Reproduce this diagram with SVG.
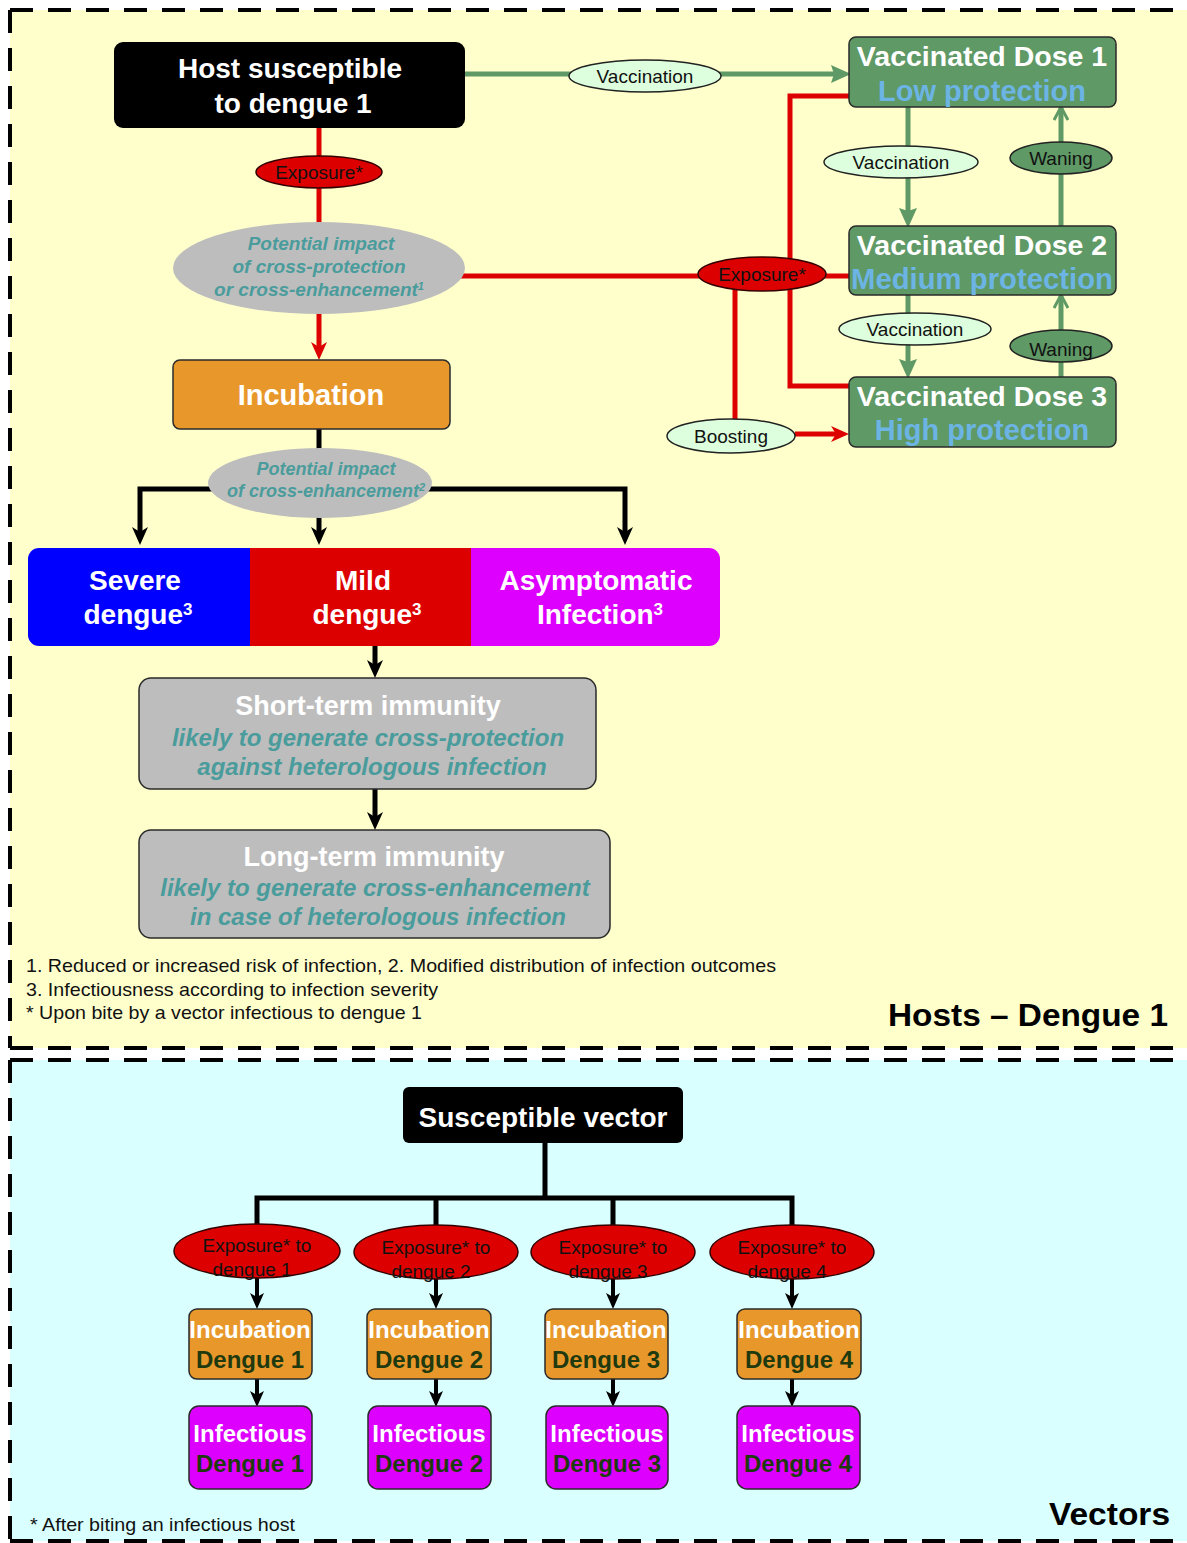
<svg xmlns="http://www.w3.org/2000/svg" width="1187" height="1543" viewBox="0 0 1187 1543">
<defs>
<marker id="ahBlack" viewBox="0 0 18 16" refX="6" refY="8" markerWidth="18" markerHeight="16" markerUnits="userSpaceOnUse" orient="auto"><path d="M0,0 L18,8 L0,16 L5,8 z" fill="#000"/></marker>
<marker id="ahBlackS" viewBox="0 0 16 14" refX="5" refY="7" markerWidth="16" markerHeight="14" markerUnits="userSpaceOnUse" orient="auto"><path d="M0,0 L16,7 L0,14 L4,7 z" fill="#000"/></marker>
<marker id="ahRed" viewBox="0 0 18 16" refX="6" refY="8" markerWidth="18" markerHeight="16" markerUnits="userSpaceOnUse" orient="auto"><path d="M0,0 L18,8 L0,16 L5,8 z" fill="#DD0000"/></marker>
<marker id="ahGreen" viewBox="0 0 20 18" refX="6" refY="9" markerWidth="20" markerHeight="18" markerUnits="userSpaceOnUse" orient="auto"><path d="M0,0 L20,9 L0,18 L3,9 z" fill="#5F9966"/></marker>
<marker id="ahGreenOpen" viewBox="0 0 16 16" refX="14" refY="8" markerWidth="16" markerHeight="16" markerUnits="userSpaceOnUse" orient="auto"><path d="M2,1 L15,8 L2,15" fill="none" stroke="#5F9966" stroke-width="3"/></marker>
<clipPath id="barClip"><rect x="28" y="548" width="692" height="98" rx="11"/></clipPath>
</defs>
<style>
.sans{font-family:"Liberation Sans",Arial,sans-serif}
.title{font-family:"Liberation Sans",Arial,sans-serif;font-weight:bold;fill:#fff;text-anchor:middle}
.teal{font-family:"Liberation Sans",Arial,sans-serif;font-weight:bold;font-style:italic;fill:#4A9C9C;text-anchor:middle}
.lbl{font-family:"Liberation Sans",Arial,sans-serif;fill:#111;text-anchor:middle;font-size:19px}
.note{font-family:"Liberation Sans",Arial,sans-serif;fill:#111;font-size:19px}
.dash{stroke:#000;stroke-width:4;stroke-dasharray:23 15;fill:none}
.lg{fill:#DDFFDD;stroke:#222;stroke-width:1.5}
.exp{fill:#DD0000;stroke:#330000;stroke-width:1.5}
.dose{fill:#5F9966;stroke:#2A2A2A;stroke-width:1.5}
.grn{stroke:#5F9966;stroke-width:5;fill:none}
.red{stroke:#DD0000;stroke-width:5;fill:none}
.blk{stroke:#000;stroke-width:5;fill:none}
.blk4{stroke:#000;stroke-width:4;fill:none}
.inc{fill:#E8982A;stroke:#2A2A2A;stroke-width:1.5}
.inf{fill:#DD00FF;stroke:#2A2A2A;stroke-width:1.5}
.dk{font-family:"Liberation Sans",Arial,sans-serif;font-weight:bold;fill:#1F3A0F;text-anchor:middle}
.blue{font-family:"Liberation Sans",Arial,sans-serif;font-weight:bold;fill:#6CB4E4;text-anchor:middle}
</style>
<rect x="0" y="0" width="1187" height="1543" fill="#fff"/>
<g id="panels">
<rect x="10" y="10" width="1177" height="1038" fill="#FFFFCC"/>
<rect x="10" y="1060" width="1177" height="481" fill="#D9FFFF"/>
<path class="dash" d="M10,10 H1187 M10,10 V1048 M10,1048 H1187 M10,1060 H1187 M10,1060 V1541 M10,1541 H1187"/>
</g>
<g id="connectors">
<line class="grn" x1="465" y1="74" x2="837" y2="74" marker-end="url(#ahGreen)"/>
<line class="grn" x1="908" y1="107" x2="908" y2="214" marker-end="url(#ahGreen)"/>
<line class="grn" x1="908" y1="295" x2="908" y2="365" marker-end="url(#ahGreen)"/>
<line class="grn" x1="1061" y1="226" x2="1061" y2="108" marker-end="url(#ahGreenOpen)"/>
<line class="grn" x1="1061" y1="377" x2="1061" y2="296" marker-end="url(#ahGreenOpen)"/>
<line class="red" x1="319" y1="128" x2="319" y2="225"/>
<line class="red" x1="319" y1="310" x2="319" y2="348" marker-end="url(#ahRed)"/>
<line class="red" x1="460" y1="276" x2="849" y2="276"/>
<polyline class="red" points="849,96 790,96 790,386 849,386"/>
<line class="red" x1="735" y1="285" x2="735" y2="422"/>
<line class="red" x1="795" y1="434" x2="837" y2="434" marker-end="url(#ahRed)"/>
<line class="blk" x1="319" y1="429" x2="319" y2="455"/>
<line class="blk" x1="319" y1="510" x2="319" y2="533" marker-end="url(#ahBlack)"/>
<path class="blk" d="M320,489 H140 V533" marker-end="url(#ahBlack)"/>
<path class="blk" d="M320,489 H625 V533" marker-end="url(#ahBlack)"/>
<line class="blk" x1="375" y1="646" x2="375" y2="666" marker-end="url(#ahBlack)"/>
<line class="blk" x1="375" y1="789" x2="375" y2="818" marker-end="url(#ahBlack)"/>
<path class="blk" d="M545,1143 V1198 M257,1226 V1198 H792 V1226 M436,1198 V1226 M613,1198 V1226"/>
<line class="blk4" x1="257" y1="1276" x2="257" y2="1298" marker-end="url(#ahBlackS)"/>
<line class="blk4" x1="436" y1="1278" x2="436" y2="1298" marker-end="url(#ahBlackS)"/>
<line class="blk4" x1="613" y1="1278" x2="613" y2="1298" marker-end="url(#ahBlackS)"/>
<line class="blk4" x1="792" y1="1278" x2="792" y2="1298" marker-end="url(#ahBlackS)"/>
<line class="blk4" x1="257" y1="1379" x2="257" y2="1396" marker-end="url(#ahBlackS)"/>
<line class="blk4" x1="436" y1="1379" x2="436" y2="1396" marker-end="url(#ahBlackS)"/>
<line class="blk4" x1="613" y1="1379" x2="613" y2="1396" marker-end="url(#ahBlackS)"/>
<line class="blk4" x1="792" y1="1379" x2="792" y2="1396" marker-end="url(#ahBlackS)"/>
</g>
<g id="host">
<rect x="114" y="42" width="351" height="86" rx="9" fill="#000"/>
<text class="title" font-size="28" x="290" y="78">Host susceptible</text>
<text class="title" font-size="28" x="293" y="113">to dengue 1</text>
</g>
<g id="vacc1">
<ellipse class="lg" cx="645" cy="76" rx="76" ry="16"/>
<text class="lbl" x="645" y="83">Vaccination</text>
</g>
<g id="exposure1">
<ellipse class="exp" cx="319" cy="172" rx="63" ry="16"/>
<text class="lbl" font-size="18" x="319" y="179">Exposure*</text>
</g>
<g id="impact1">
<ellipse cx="319" cy="268" rx="146" ry="46" fill="#BDBDBD"/>
<text class="teal" font-size="19" x="321" y="250">Potential impact</text>
<text class="teal" font-size="19" x="319" y="273">of cross-protection</text>
<text class="teal" font-size="19" x="319" y="296">or cross-enhancement<tspan font-size="11" baseline-shift="super">1</tspan></text>
</g>
<g id="dose1">
<rect class="dose" x="849" y="37" width="267" height="70" rx="7"/>
<text class="title" font-size="28.5" x="982" y="66">Vaccinated Dose 1</text>
<text class="blue" font-size="29" x="982" y="101">Low protection</text>
</g>
<g id="dose2">
<rect class="dose" x="849" y="226" width="267" height="69" rx="7"/>
<text class="title" font-size="28.5" x="982" y="255">Vaccinated Dose 2</text>
<text class="blue" font-size="29" x="982" y="289" textLength="262" lengthAdjust="spacingAndGlyphs">Medium protection</text>
</g>
<g id="dose3">
<rect class="dose" x="849" y="377" width="267" height="70" rx="7"/>
<text class="title" font-size="28.5" x="982" y="406">Vaccinated Dose 3</text>
<text class="blue" font-size="29" x="982" y="440">High protection</text>
</g>
<g id="vacc2">
<ellipse class="lg" cx="901" cy="162" rx="77" ry="16"/>
<text class="lbl" x="901" y="169">Vaccination</text>
</g>
<g id="waning1">
<ellipse cx="1061" cy="158" rx="51" ry="16" fill="#5F9966" stroke="#222" stroke-width="1.5"/>
<text class="lbl" x="1061" y="165">Waning</text>
</g>
<g id="vacc3">
<ellipse class="lg" cx="915" cy="329" rx="76" ry="16"/>
<text class="lbl" x="915" y="336">Vaccination</text>
</g>
<g id="waning2">
<ellipse cx="1061" cy="346" rx="51" ry="16" fill="#5F9966" stroke="#222" stroke-width="1.5"/>
<text class="lbl" x="1061" y="356">Waning</text>
</g>
<g id="exposure2">
<ellipse class="exp" cx="762" cy="274" rx="64" ry="17"/>
<text class="lbl" font-size="18" x="762" y="281">Exposure*</text>
</g>
<g id="boosting">
<ellipse class="lg" cx="731" cy="436" rx="64" ry="17"/>
<text class="lbl" x="731" y="443">Boosting</text>
</g>
<g id="incubation">
<rect x="173" y="360" width="277" height="69" rx="7" fill="#E8982A" stroke="#2A2A2A" stroke-width="1.5"/>
<text class="title" font-size="29" x="311" y="405">Incubation</text>
</g>
<g id="impact2">
<ellipse cx="320" cy="483" rx="112" ry="35" fill="#BDBDBD"/>
<text class="teal" font-size="18" x="326" y="475">Potential impact</text>
<text class="teal" font-size="18" x="326" y="497">of cross-enhancement<tspan font-size="11" baseline-shift="super">2</tspan></text>
</g>
<g id="outcomes">
<g clip-path="url(#barClip)">
<rect x="28" y="548" width="222" height="98" fill="#0000FF"/>
<rect x="250" y="548" width="221" height="98" fill="#DD0000"/>
<rect x="471" y="548" width="249" height="98" fill="#DD00FF"/>
</g>
<text class="title" font-size="28" x="135" y="590">Severe</text>
<text class="title" font-size="28" x="138" y="624">dengue<tspan font-size="17" baseline-shift="super">3</tspan></text>
<text class="title" font-size="28" x="363" y="590">Mild</text>
<text class="title" font-size="28" x="367" y="624">dengue<tspan font-size="17" baseline-shift="super">3</tspan></text>
<text class="title" font-size="28" x="596" y="590">Asymptomatic</text>
<text class="title" font-size="28" x="600" y="624">Infection<tspan font-size="17" baseline-shift="super">3</tspan></text>
</g>
<g id="shortterm">
<rect x="139" y="678" width="457" height="111" rx="12" fill="#BDBDBD" stroke="#2A2A2A" stroke-width="1.5"/>
<text class="title" font-size="27" x="368" y="715">Short-term immunity</text>
<text class="teal" font-size="24" x="368" y="746">likely to generate cross-protection</text>
<text class="teal" font-size="24" x="372" y="775">against heterologous infection</text>
</g>
<g id="longterm">
<rect x="139" y="830" width="471" height="108" rx="12" fill="#BDBDBD" stroke="#2A2A2A" stroke-width="1.5"/>
<text class="title" font-size="27" x="374" y="866">Long-term immunity</text>
<text class="teal" font-size="24" x="375" y="896">likely to generate cross-enhancement</text>
<text class="teal" font-size="24" x="378" y="925">in case of heterologous infection</text>
</g>
<g id="host-notes">
<text class="note" x="26" y="972" textLength="750" lengthAdjust="spacingAndGlyphs">1. Reduced or increased risk of infection, 2. Modified distribution of infection outcomes</text>
<text class="note" x="26" y="996" textLength="412" lengthAdjust="spacingAndGlyphs">3. Infectiousness according to infection severity</text>
<text class="note" x="26" y="1019" textLength="396" lengthAdjust="spacingAndGlyphs">* Upon bite by a vector infectious to dengue 1</text>
<text class="sans" font-size="32" font-weight="bold" x="888" y="1026" textLength="280" lengthAdjust="spacingAndGlyphs" fill="#000">Hosts – Dengue 1</text>
</g>
<g id="vector">
<rect x="403" y="1087" width="280" height="56" rx="6" fill="#000"/>
<text class="title" font-size="28" x="543" y="1127">Susceptible vector</text>
</g>
<g id="vexp1"><ellipse class="exp" cx="257" cy="1251" rx="83" ry="27"/><text class="lbl" x="257" y="1252" fill="#220000">Exposure* to</text><text class="lbl" x="252" y="1276" fill="#220000">dengue 1</text></g>
<g id="vexp2"><ellipse class="exp" cx="436" cy="1252" rx="82" ry="27"/><text class="lbl" x="436" y="1254" fill="#220000">Exposure* to</text><text class="lbl" x="431" y="1278" fill="#220000">dengue 2</text></g>
<g id="vexp3"><ellipse class="exp" cx="613" cy="1252" rx="82" ry="27"/><text class="lbl" x="613" y="1254" fill="#220000">Exposure* to</text><text class="lbl" x="608" y="1278" fill="#220000">dengue 3</text></g>
<g id="vexp4"><ellipse class="exp" cx="792" cy="1252" rx="82" ry="27"/><text class="lbl" x="792" y="1254" fill="#220000">Exposure* to</text><text class="lbl" x="787" y="1278" fill="#220000">dengue 4</text></g>
<g id="vinc1"><rect class="inc" x="189" y="1309" width="123" height="70" rx="8"/><text class="title" font-size="24" x="250" y="1338">Incubation</text><text class="dk" font-size="24" x="250" y="1368">Dengue 1</text></g>
<g id="vinc2"><rect class="inc" x="367" y="1309" width="124" height="70" rx="8"/><text class="title" font-size="24" x="429" y="1338">Incubation</text><text class="dk" font-size="24" x="429" y="1368">Dengue 2</text></g>
<g id="vinc3"><rect class="inc" x="545" y="1309" width="123" height="70" rx="8"/><text class="title" font-size="24" x="606" y="1338">Incubation</text><text class="dk" font-size="24" x="606" y="1368">Dengue 3</text></g>
<g id="vinc4"><rect class="inc" x="737" y="1309" width="124" height="70" rx="8"/><text class="title" font-size="24" x="799" y="1338">Incubation</text><text class="dk" font-size="24" x="799" y="1368">Dengue 4</text></g>
<g id="vinf1"><rect class="inf" x="189" y="1406" width="123" height="83" rx="10"/><text class="title" font-size="24" x="250" y="1442">Infectious</text><text class="dk" font-size="24" x="250" y="1472">Dengue 1</text></g>
<g id="vinf2"><rect class="inf" x="368" y="1406" width="123" height="83" rx="10"/><text class="title" font-size="24" x="429" y="1442">Infectious</text><text class="dk" font-size="24" x="429" y="1472">Dengue 2</text></g>
<g id="vinf3"><rect class="inf" x="546" y="1406" width="122" height="83" rx="10"/><text class="title" font-size="24" x="607" y="1442">Infectious</text><text class="dk" font-size="24" x="607" y="1472">Dengue 3</text></g>
<g id="vinf4"><rect class="inf" x="737" y="1406" width="123" height="83" rx="10"/><text class="title" font-size="24" x="798" y="1442">Infectious</text><text class="dk" font-size="24" x="798" y="1472">Dengue 4</text></g>
<g id="vector-notes">
<text class="note" x="30" y="1531" textLength="265" lengthAdjust="spacingAndGlyphs">* After biting an infectious host</text>
<text class="sans" font-size="32" font-weight="bold" x="1049" y="1525" textLength="121" lengthAdjust="spacingAndGlyphs" fill="#000">Vectors</text>
</g>
</svg>
